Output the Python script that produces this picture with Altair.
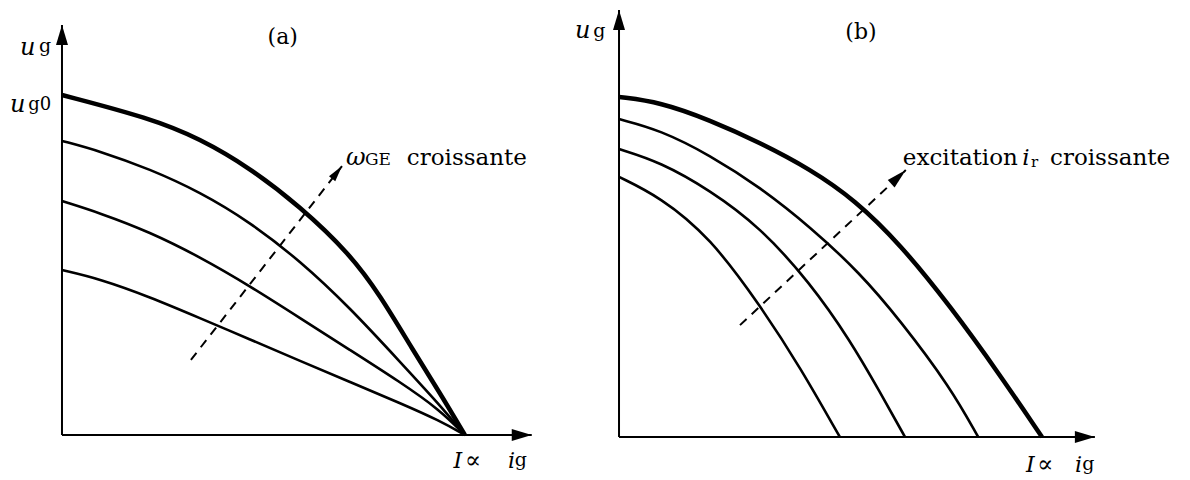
import altair as alt
import pandas as pd

FONT = "DejaVu Serif"

# ---------- Panel (a): u_g(i_g) for increasing omega_GE (normalised: u_g0 = 1, I_cc = 1)
a1_ig = [0.0, 0.218, 0.342, 0.467, 0.591, 0.715, 0.789, 0.871, 0.938, 1.0]
a1_ug = [1.0, 0.932, 0.872, 0.785, 0.672, 0.532, 0.412, 0.250, 0.124, 0.0]
a2_ig = [0.0, 0.094, 0.218, 0.342, 0.467, 0.591, 0.715, 0.839, 0.938, 1.0]
a2_ug = [0.865, 0.835, 0.782, 0.715, 0.626, 0.512, 0.374, 0.215, 0.088, 0.0]
a3_ig = [0.0, 0.094, 0.218, 0.342, 0.467, 0.591, 0.715, 0.839, 0.938, 1.0]
a3_ug = [0.688, 0.653, 0.597, 0.524, 0.438, 0.344, 0.250, 0.156, 0.074, 0.0]
a4_ig = [0.0, 0.094, 0.218, 0.342, 0.467, 0.591, 0.715, 0.839, 0.938, 1.0]
a4_ug = [0.485, 0.459, 0.406, 0.344, 0.281, 0.218, 0.156, 0.094, 0.042, 0.0]

# ---------- Panel (b): u_g(i_g) for increasing excitation i_r
b1_ig = [0.0, 0.097, 0.215, 0.333, 0.452, 0.558, 0.664, 0.783, 0.901, 1.0]
b1_ug = [1.0, 0.985, 0.932, 0.866, 0.788, 0.697, 0.568, 0.385, 0.182, 0.0]
b2_ig = [0.0, 0.097, 0.215, 0.333, 0.452, 0.570, 0.664, 0.783, 0.849]
b2_ug = [0.935, 0.903, 0.829, 0.735, 0.618, 0.482, 0.344, 0.147, 0.0]
b3_ig = [0.0, 0.097, 0.215, 0.333, 0.452, 0.546, 0.617, 0.676]
b3_ug = [0.847, 0.809, 0.726, 0.618, 0.453, 0.285, 0.132, 0.0]
b4_ig = [0.0, 0.097, 0.215, 0.333, 0.428, 0.522]
b4_ug = [0.765, 0.706, 0.588, 0.388, 0.206, 0.0]

# dashed "croissante" arrows: start and tip (ig, ug)
a_dash = [0.320, 0.221, 0.695, 0.791]
b_dash = [0.286, 0.329, 0.678, 0.785]

# axis arrow tips (ig end, ug end)
a_axis = [1.166, 1.206]
b_axis = [1.125, 1.256]

ARROW_AX = "M0,0L0.6,2L-0.6,2Z"
ARROW_D = "M0,0L0.5,2L-0.5,2Z"


def curves_df(pairs):
    rows = []
    for k, (xs, ys) in enumerate(pairs):
        for i, (x, y) in enumerate(zip(xs, ys)):
            rows.append({"c": k, "i": i, "ig": x, "ug": y})
    return pd.DataFrame(rows)


def panel(thick, thin, dash, axis, dash_angle, dash_size, texts, xdom, ydom, w, h):
    sx = alt.Scale(domain=xdom, nice=False, zero=False)
    sy = alt.Scale(domain=ydom, nice=False, zero=False)

    def X(f):
        return alt.X(f, type="quantitative", scale=sx, axis=None)

    def Y(f):
        return alt.Y(f, type="quantitative", scale=sy, axis=None)

    layers = []
    # axes
    ax = pd.DataFrame({"x": [0.0, 0.0], "y": [0.0, 0.0],
                       "x2": [axis[0], 0.0], "y2": [0.0, axis[1]]})
    layers.append(alt.Chart(ax).mark_rule(color="black", strokeWidth=2).encode(
        x=X("x"), y=Y("y"), x2="x2", y2="y2"))
    layers.append(alt.Chart(pd.DataFrame({"x": [axis[0]], "y": [0.0]})).mark_point(
        shape=ARROW_AX, size=400, filled=True, color="black", opacity=1, angle=90
    ).encode(x=X("x"), y=Y("y")))
    layers.append(alt.Chart(pd.DataFrame({"x": [0.0], "y": [axis[1]]})).mark_point(
        shape=ARROW_AX, size=400, filled=True, color="black", opacity=1, angle=0
    ).encode(x=X("x"), y=Y("y")))
    # curves
    layers.append(alt.Chart(curves_df(thin)).mark_line(
        color="black", strokeWidth=2.6, interpolate="basis").encode(
        x=X("ig"), y=Y("ug"), detail="c:N", order="i:Q"))
    layers.append(alt.Chart(curves_df(thick)).mark_line(
        color="black", strokeWidth=4.5, interpolate="basis").encode(
        x=X("ig"), y=Y("ug"), detail="c:N", order="i:Q"))
    # dashed arrow
    dd = pd.DataFrame({"x": [dash[0]], "y": [dash[1]], "x2": [dash[2]], "y2": [dash[3]]})
    layers.append(alt.Chart(dd).mark_rule(color="black", strokeWidth=2, strokeDash=[9, 7]).encode(
        x=X("x"), y=Y("y"), x2="x2", y2="y2"))
    layers.append(alt.Chart(pd.DataFrame({"x": [dash[2]], "y": [dash[3]]})).mark_point(
        shape=ARROW_D, size=dash_size, filled=True, color="black", opacity=1, angle=dash_angle
    ).encode(x=X("x"), y=Y("y")))
    # texts
    for (tx, ty, tt, size, style, align, baseline) in texts:
        layers.append(alt.Chart(pd.DataFrame({"x": [tx], "y": [ty], "t": [tt]})).mark_text(
            font=FONT, fontSize=size, fontStyle=style, align=align, baseline=baseline,
            color="black").encode(x=X("x"), y=Y("y"), text="t:N"))
    return alt.layer(*layers).properties(width=w, height=h)


texts_a = [
    (0.548, 1.171, "(a)", 22, "normal", "center", "middle"),
    (-0.104, 1.118, "u", 24, "italic", "left", "alphabetic"),
    (-0.057, 1.126, "g", 19, "normal", "left", "alphabetic"),
    (-0.129, 0.950, "u", 24, "italic", "left", "alphabetic"),
    (-0.084, 0.956, "g0", 18, "normal", "left", "alphabetic"),
    (0.705, 0.794, "ω", 24, "italic", "left", "alphabetic"),
    (0.752, 0.794, "GE", 17, "normal", "left", "alphabetic"),
    (0.856, 0.794, "croissante", 23, "normal", "left", "alphabetic"),
    (0.972, -0.097, "I", 22, "italic", "left", "alphabetic"),
    (1.000, -0.097, "∝", 24, "normal", "left", "alphabetic"),
    (1.107, -0.097, "i", 22, "italic", "left", "alphabetic"),
    (1.124, -0.090, "g", 19, "normal", "left", "alphabetic"),
]
texts_b = [
    (0.572, 1.191, "(b)", 22, "normal", "center", "middle"),
    (-0.104, 1.174, "u", 24, "italic", "left", "alphabetic"),
    (-0.061, 1.176, "g", 19, "normal", "left", "alphabetic"),
    (0.671, 0.800, "excitation", 23, "normal", "left", "alphabetic"),
    (0.953, 0.800, "i", 23, "italic", "left", "alphabetic"),
    (0.974, 0.794, "r", 15, "normal", "left", "alphabetic"),
    (1.019, 0.800, "croissante", 23, "normal", "left", "alphabetic"),
    (0.962, -0.103, "I", 22, "italic", "left", "alphabetic"),
    (0.988, -0.103, "∝", 24, "normal", "left", "alphabetic"),
    (1.078, -0.103, "i", 22, "italic", "left", "alphabetic"),
    (1.095, -0.096, "g", 19, "normal", "left", "alphabetic"),
]

pa = panel([(a1_ig, a1_ug)], [(a2_ig, a2_ug), (a3_ig, a3_ug), (a4_ig, a4_ug)],
           a_dash, a_axis, 38, 256, texts_a,
           [-0.134, 1.256], [-0.1088, 1.2559], 560, 464)
pb = panel([(b1_ig, b1_ug)], [(b2_ig, b2_ug), (b3_ig, b3_ug), (b4_ig, b4_ug)],
           b_dash, b_axis, 47, 400, texts_b,
           [-0.1206, 1.3215], [-0.103, 1.2618], 610, 464)

chart = alt.hconcat(pa, pb, spacing=0).properties(padding=0, background="white").configure_view(stroke=None)
chart.save("out.html", embed_options={"renderer": "svg", "actions": False})
